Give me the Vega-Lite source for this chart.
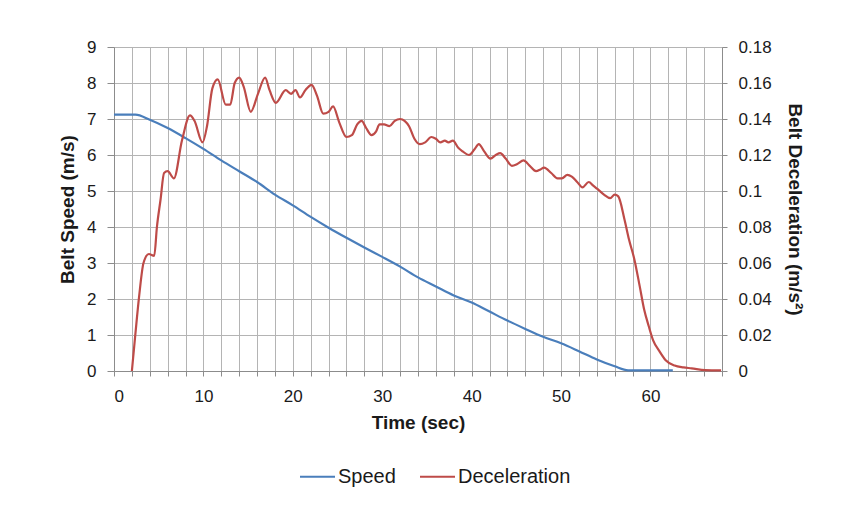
{
  "$schema": "https://vega.github.io/schema/vega-lite/v6.json",
  "width": 608,
  "height": 324,
  "padding": {"left": 58, "top": 38, "right": 10, "bottom": 10},
  "background": "white",
  "config": {
    "font": "Liberation Sans",
    "view": {"stroke": null},
    "axis": {
      "labelFont": "Liberation Sans",
      "titleFont": "Liberation Sans",
      "labelFontSize": 17,
      "titleFontSize": 19,
      "titleFontWeight": "bold",
      "labelColor": "#1a1a1a",
      "titleColor": "#1a1a1a",
      "gridColor": "#b4b4b4",
      "gridWidth": 1,
      "gridOpacity": 1,
      "domainColor": "#8c8c8c",
      "tickColor": "#8c8c8c"
    },
    "legend": {"labelFont": "Liberation Sans", "labelFontSize": 20, "labelColor": "#1a1a1a"}
  },
  "datasets": {
    "speed": [
      {"t": 0, "v": 7.12, "series": "Speed"},
      {"t": 2.4, "v": 7.12, "series": "Speed"},
      {"t": 4, "v": 6.98, "series": "Speed"},
      {"t": 6, "v": 6.75, "series": "Speed"},
      {"t": 8, "v": 6.47, "series": "Speed"},
      {"t": 10, "v": 6.17, "series": "Speed"},
      {"t": 12, "v": 5.85, "series": "Speed"},
      {"t": 14, "v": 5.55, "series": "Speed"},
      {"t": 16, "v": 5.25, "series": "Speed"},
      {"t": 18, "v": 4.9, "series": "Speed"},
      {"t": 20, "v": 4.6, "series": "Speed"},
      {"t": 22, "v": 4.28, "series": "Speed"},
      {"t": 24, "v": 3.98, "series": "Speed"},
      {"t": 26, "v": 3.7, "series": "Speed"},
      {"t": 28, "v": 3.43, "series": "Speed"},
      {"t": 30, "v": 3.17, "series": "Speed"},
      {"t": 32, "v": 2.9, "series": "Speed"},
      {"t": 34, "v": 2.6, "series": "Speed"},
      {"t": 36, "v": 2.35, "series": "Speed"},
      {"t": 38, "v": 2.1, "series": "Speed"},
      {"t": 40, "v": 1.9, "series": "Speed"},
      {"t": 42, "v": 1.65, "series": "Speed"},
      {"t": 44, "v": 1.4, "series": "Speed"},
      {"t": 46, "v": 1.17, "series": "Speed"},
      {"t": 48, "v": 0.95, "series": "Speed"},
      {"t": 50, "v": 0.77, "series": "Speed"},
      {"t": 52, "v": 0.55, "series": "Speed"},
      {"t": 54, "v": 0.32, "series": "Speed"},
      {"t": 56, "v": 0.13, "series": "Speed"},
      {"t": 57.5, "v": 0.02, "series": "Speed"},
      {"t": 62.5, "v": 0.02, "series": "Speed"}
    ],
    "decel": [
      {"t": 2.0, "d": 0, "series": "Deceleration"},
      {"t": 2.4, "d": 0.021, "series": "Deceleration"},
      {"t": 2.8, "d": 0.041, "series": "Deceleration"},
      {"t": 3.3, "d": 0.06, "series": "Deceleration"},
      {"t": 3.9, "d": 0.065, "series": "Deceleration"},
      {"t": 4.5, "d": 0.064, "series": "Deceleration"},
      {"t": 4.8, "d": 0.08, "series": "Deceleration"},
      {"t": 5.2, "d": 0.095, "series": "Deceleration"},
      {"t": 5.6, "d": 0.11, "series": "Deceleration"},
      {"t": 6.0, "d": 0.111, "series": "Deceleration"},
      {"t": 6.7, "d": 0.107, "series": "Deceleration"},
      {"t": 7.6, "d": 0.128, "series": "Deceleration"},
      {"t": 8.5, "d": 0.142, "series": "Deceleration"},
      {"t": 9.0, "d": 0.139, "series": "Deceleration"},
      {"t": 9.9, "d": 0.127, "series": "Deceleration"},
      {"t": 10.4, "d": 0.136, "series": "Deceleration"},
      {"t": 11.0, "d": 0.157, "series": "Deceleration"},
      {"t": 11.6, "d": 0.162, "series": "Deceleration"},
      {"t": 12.5, "d": 0.148, "series": "Deceleration"},
      {"t": 13.0, "d": 0.148, "series": "Deceleration"},
      {"t": 13.5, "d": 0.16, "series": "Deceleration"},
      {"t": 14.0, "d": 0.163, "series": "Deceleration"},
      {"t": 14.5, "d": 0.158, "series": "Deceleration"},
      {"t": 15.3, "d": 0.144, "series": "Deceleration"},
      {"t": 16.1, "d": 0.154, "series": "Deceleration"},
      {"t": 16.9, "d": 0.163, "series": "Deceleration"},
      {"t": 17.4, "d": 0.156, "series": "Deceleration"},
      {"t": 18.1, "d": 0.149, "series": "Deceleration"},
      {"t": 19.2, "d": 0.156, "series": "Deceleration"},
      {"t": 19.8, "d": 0.154, "series": "Deceleration"},
      {"t": 20.3, "d": 0.156, "series": "Deceleration"},
      {"t": 20.8, "d": 0.152, "series": "Deceleration"},
      {"t": 21.4, "d": 0.156, "series": "Deceleration"},
      {"t": 22.1, "d": 0.159, "series": "Deceleration"},
      {"t": 22.7, "d": 0.153, "series": "Deceleration"},
      {"t": 23.4, "d": 0.143, "series": "Deceleration"},
      {"t": 24.0, "d": 0.144, "series": "Deceleration"},
      {"t": 24.5, "d": 0.147, "series": "Deceleration"},
      {"t": 25.2, "d": 0.138, "series": "Deceleration"},
      {"t": 26.0, "d": 0.13, "series": "Deceleration"},
      {"t": 26.6, "d": 0.131, "series": "Deceleration"},
      {"t": 27.2, "d": 0.137, "series": "Deceleration"},
      {"t": 27.7, "d": 0.139, "series": "Deceleration"},
      {"t": 28.2, "d": 0.135, "series": "Deceleration"},
      {"t": 28.8, "d": 0.131, "series": "Deceleration"},
      {"t": 29.3, "d": 0.133, "series": "Deceleration"},
      {"t": 29.7, "d": 0.137, "series": "Deceleration"},
      {"t": 30.2, "d": 0.137, "series": "Deceleration"},
      {"t": 30.8, "d": 0.136, "series": "Deceleration"},
      {"t": 31.4, "d": 0.139, "series": "Deceleration"},
      {"t": 32.0, "d": 0.14, "series": "Deceleration"},
      {"t": 32.5, "d": 0.139, "series": "Deceleration"},
      {"t": 33.0, "d": 0.136, "series": "Deceleration"},
      {"t": 33.6, "d": 0.129, "series": "Deceleration"},
      {"t": 34.2, "d": 0.126, "series": "Deceleration"},
      {"t": 34.8, "d": 0.127, "series": "Deceleration"},
      {"t": 35.5, "d": 0.13, "series": "Deceleration"},
      {"t": 36.0, "d": 0.129, "series": "Deceleration"},
      {"t": 36.5, "d": 0.127, "series": "Deceleration"},
      {"t": 37.0, "d": 0.128, "series": "Deceleration"},
      {"t": 37.4, "d": 0.127, "series": "Deceleration"},
      {"t": 37.9, "d": 0.128, "series": "Deceleration"},
      {"t": 38.5, "d": 0.124, "series": "Deceleration"},
      {"t": 39.0, "d": 0.122, "series": "Deceleration"},
      {"t": 39.7, "d": 0.12, "series": "Deceleration"},
      {"t": 40.3, "d": 0.123, "series": "Deceleration"},
      {"t": 40.8, "d": 0.126, "series": "Deceleration"},
      {"t": 41.4, "d": 0.122, "series": "Deceleration"},
      {"t": 42.1, "d": 0.118, "series": "Deceleration"},
      {"t": 42.7, "d": 0.12, "series": "Deceleration"},
      {"t": 43.2, "d": 0.121, "series": "Deceleration"},
      {"t": 43.8, "d": 0.118, "series": "Deceleration"},
      {"t": 44.5, "d": 0.114, "series": "Deceleration"},
      {"t": 45.1, "d": 0.115, "series": "Deceleration"},
      {"t": 45.8, "d": 0.117, "series": "Deceleration"},
      {"t": 46.5, "d": 0.114, "series": "Deceleration"},
      {"t": 47.2, "d": 0.111, "series": "Deceleration"},
      {"t": 47.7, "d": 0.112, "series": "Deceleration"},
      {"t": 48.1, "d": 0.113, "series": "Deceleration"},
      {"t": 48.9, "d": 0.11, "series": "Deceleration"},
      {"t": 49.6, "d": 0.107, "series": "Deceleration"},
      {"t": 50.1, "d": 0.107, "series": "Deceleration"},
      {"t": 50.7, "d": 0.109, "series": "Deceleration"},
      {"t": 51.2, "d": 0.108, "series": "Deceleration"},
      {"t": 51.8, "d": 0.105, "series": "Deceleration"},
      {"t": 52.4, "d": 0.102, "series": "Deceleration"},
      {"t": 53.1, "d": 0.105, "series": "Deceleration"},
      {"t": 53.6, "d": 0.103, "series": "Deceleration"},
      {"t": 54.1, "d": 0.101, "series": "Deceleration"},
      {"t": 54.8, "d": 0.098, "series": "Deceleration"},
      {"t": 55.5, "d": 0.096, "series": "Deceleration"},
      {"t": 56.0, "d": 0.098, "series": "Deceleration"},
      {"t": 56.4, "d": 0.097, "series": "Deceleration"},
      {"t": 57.1, "d": 0.084, "series": "Deceleration"},
      {"t": 57.6, "d": 0.073, "series": "Deceleration"},
      {"t": 58.2, "d": 0.062, "series": "Deceleration"},
      {"t": 58.8, "d": 0.047, "series": "Deceleration"},
      {"t": 59.3, "d": 0.034, "series": "Deceleration"},
      {"t": 59.8, "d": 0.025, "series": "Deceleration"},
      {"t": 60.3, "d": 0.017, "series": "Deceleration"},
      {"t": 61.0, "d": 0.011, "series": "Deceleration"},
      {"t": 61.7, "d": 0.006, "series": "Deceleration"},
      {"t": 62.7, "d": 0.003, "series": "Deceleration"},
      {"t": 63.7, "d": 0.002, "series": "Deceleration"},
      {"t": 64.6, "d": 0.0015, "series": "Deceleration"},
      {"t": 66.1, "d": 0.0005, "series": "Deceleration"},
      {"t": 67.9, "d": 0.0003, "series": "Deceleration"}
    ]
  },
  "encoding": {
    "x": {
      "field": "t",
      "type": "quantitative",
      "scale": {"domain": [0, 68], "nice": false, "zero": false},
      "axis": {
        "title": "Time (sec)",
        "values": [0,2,4,6,8,10,12,14,16,18,20,22,24,26,28,30,32,34,36,38,40,42,44,46,48,50,52,54,56,58,60,62,64,66,68],
        "labelExpr": "datum.value % 10 === 0 ? datum.label : ''",
        "tickSize": 5,
        "labelPadding": 12,
        "titlePadding": 9,
        "grid": true
      }
    },
    "color": {
      "field": "series",
      "type": "nominal",
      "scale": {"domain": ["Speed", "Deceleration"], "range": ["#4a7ebb", "#be4b48"]},
      "legend": {
        "title": null,
        "orient": "none",
        "legendX": 185,
        "legendY": 411,
        "direction": "horizontal",
        "symbolType": "stroke",
        "symbolSize": 1225,
        "symbolStrokeWidth": 2,
        "labelOffset": 2,
        "columnPadding": 20
      }
    }
  },
  "layer": [
    {
      "data": {"name": "speed"},
      "mark": {"type": "line", "strokeWidth": 2.2, "interpolate": "monotone"},
      "encoding": {
        "y": {
          "field": "v",
          "type": "quantitative",
          "scale": {"domain": [0, 9], "nice": false},
          "axis": {
            "title": "Belt Speed (m/s)",
            "orient": "left",
            "values": [0,1,2,3,4,5,6,7,8,9],
            "tickSize": 7,
            "labelPadding": 11,
            "titlePadding": 9,
            "grid": true
          }
        }
      }
    },
    {
      "data": {"name": "decel"},
      "mark": {"type": "line", "strokeWidth": 2.2, "interpolate": "monotone"},
      "encoding": {
        "y": {
          "field": "d",
          "type": "quantitative",
          "scale": {"domain": [0, 0.18], "nice": false},
          "axis": {
            "title": "Belt Deceleration (m/s²)",
            "orient": "right",
            "values": [0,0.02,0.04,0.06,0.08,0.1,0.12,0.14,0.16,0.18],
            "format": ".2~f",
            "tickSize": 5,
            "labelPadding": 11,
            "titlePadding": 13,
            "grid": false
          }
        }
      }
    }
  ],
  "resolve": {"scale": {"y": "independent"}}
}
